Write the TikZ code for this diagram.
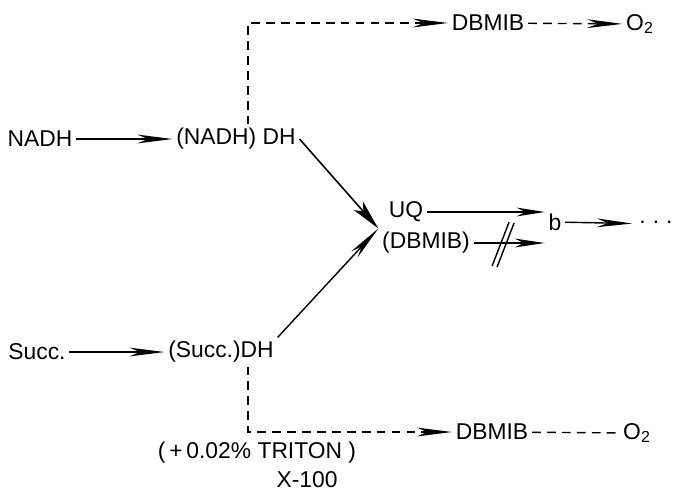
\documentclass[tikz,border=0pt]{standalone}
\usepackage{fontspec}
\setmainfont{Liberation Sans}
\usetikzlibrary{arrows.meta,positioning}

\begin{document}
\begin{tikzpicture}[
        x=0.02cm, y=-0.02cm,
        every node/.style={ font=\fontsize{13}{15}\selectfont, inner sep=2pt },
        flow/.style={ line width=0.8pt, -{Stealth[length=20pt,width=5pt,inset=6pt]} },
        bigflow/.style={ line width=0.9pt, -{Stealth[length=17pt,width=7pt,inset=4pt]} },
        sideflow/.style={ flow, dash pattern=on 5pt off 3.5pt },
        sideline/.style={ line width=0.8pt, dash pattern=on 5pt off 3.5pt }
    ]
    \useasboundingbox (0,0) rectangle (678,494);

    \node (nadh) at (40,139) {NADH};
    \node (nadhdh) at (236,139) {(NADH) DH};
    \node (succ) at (37,352) {Succ.};
    \node (succdh) at (221,352) {(Succ.)DH};

    \node (uq) at (406,212) {UQ};
    \node (dbmib) at (426,243) {(DBMIB)};
    \node (b) at (555,222) {b};
    \node[inner sep=0pt] (dots) at (656,224) {\raisebox{2pt}{.\hspace{4pt}.\hspace{4pt}.}};

    \node (dbmibtop) at (488,23) {DBMIB};
    \node (otop) at (640,24) {O\textsubscript{2}};
    \node (dbmibbot) at (492,432) {DBMIB};
    \node (obot) at (637,433) {O\textsubscript{2}};

    \node (triton) at (257,453) {(\,+\,0.02\% TRITON )};
    \node (x100) at (307,480) {X-100};

    \coordinate (topturn) at (248,23);
    \coordinate (botturn) at (248,432);

    \draw[flow] (nadh) -- (nadhdh);
    \draw[flow] (succ) -- (succdh);
    \draw[bigflow] (nadhdh.east) -- (dbmib.north west);
    \draw[flow] (succdh.north east) -- (dbmib.north west);

    \draw[flow, -{Stealth[length=16pt,width=5pt,inset=5pt]}] (uq.east) -- (uq.east -| b.west);
    \draw[flow, -{Stealth[length=17pt,width=5pt,inset=5pt]}] (dbmib.east) -- (dbmib.east -| b.west) coordinate[pos=0.4] (blk);
    \draw[line width=0.8pt] ([shift={(7,-21)}]blk) -- ([shift={(-10,23)}]blk);
    \draw[line width=0.8pt] ([shift={(12,-20)}]blk) -- ([shift={(-5,24)}]blk);
    \draw[flow, shorten >=4pt] (b) -- (dots);

    \draw[sideflow] (topturn |- nadhdh.north) -- (topturn) -- (dbmibtop);
    \draw[sideflow] (dbmibtop) -- (otop);
    \draw[sideflow] (topturn |- succdh.south) -- (botturn) -- (dbmibbot);
    \draw[sideline] (dbmibbot) -- (obot);
\end{tikzpicture}
\end{document}
